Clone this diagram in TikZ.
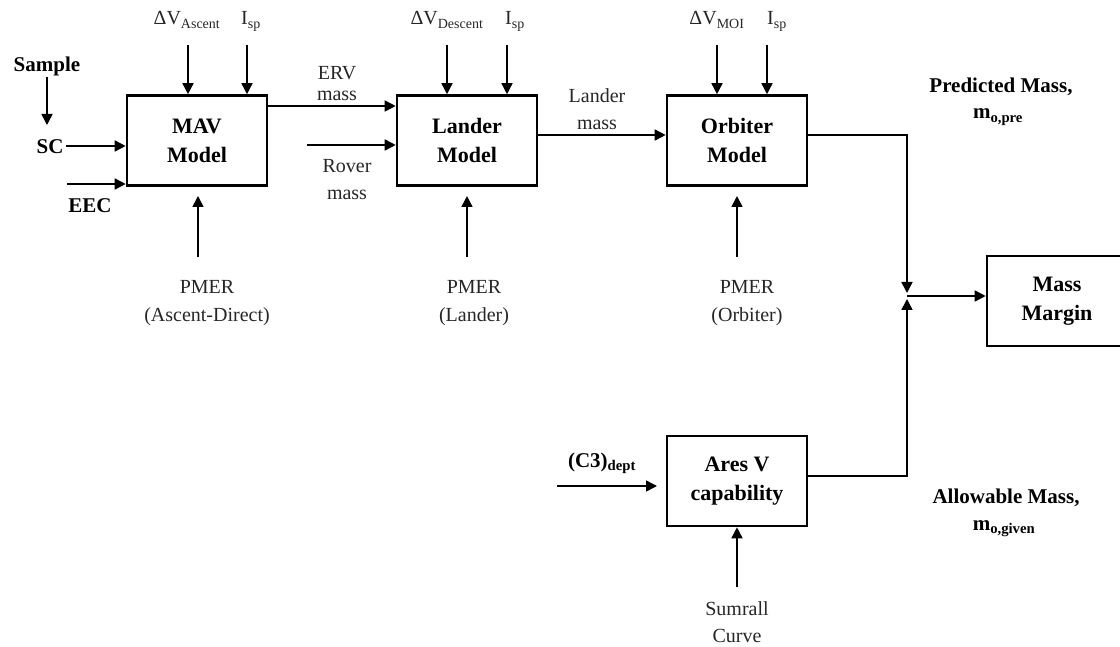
\documentclass[tikz,border=0pt]{standalone}
\usepackage{fontspec}
\setmainfont{Liberation Serif}
\usetikzlibrary{arrows.meta}
\begin{document}
\begin{tikzpicture}[x=1pt,y=-1pt,
  box/.style={draw, line width=2.6pt, minimum width=140pt, minimum height=90pt, inner sep=0pt,
    font=\bfseries\fontsize{22}{29}\selectfont, align=center},
  arr/.style={line width=1.6pt, -{Triangle[length=11pt,width=11pt]}},
  lbl/.style={font=\fontsize{20}{26}\selectfont, text=black!85, anchor=base, inner sep=0pt},
  blbl/.style={font=\bfseries\fontsize{21}{26}\selectfont, anchor=base, inner sep=0pt}
]
\useasboundingbox (0,0) rectangle (1120,647);

% boxes
\node[box] (mav) at (197,140.5) {MAV\\Model};
\node[box] (lander) at (467,140.5) {Lander\\Model};
\node[box] (orbiter) at (737,140.5) {Orbiter\\Model};
\node[box] (margin) at (1057,301) {Mass\\Margin};
\node[box] (ares) at (737,481) {Ares V\\capability};

% top labels
\node[lbl] (dva) at (187,25) {ΔV\textsubscript{Ascent}};
\node[lbl] (ispa) at (251,25) {I\textsubscript{sp}};
\node[lbl] (dvd) at (447,25) {ΔV\textsubscript{Descent}};
\node[lbl] (ispd) at (515,25) {I\textsubscript{sp}};
\node[lbl] (dvm) at (717,25) {ΔV\textsubscript{MOI}};
\node[lbl] (ispm) at (777,25) {I\textsubscript{sp}};

\coordinate (dvaS) at (188,45);
\coordinate (ispaS) at (247,45);
\coordinate (dvdS) at (447,45);
\coordinate (ispdS) at (507,45);
\coordinate (dvmS) at (717,45);
\coordinate (ispmS) at (767,45);
\draw[arr] (dvaS) -- (dvaS |- mav.north);
\draw[arr] (ispaS) -- (ispaS |- mav.north);
\draw[arr] (dvdS) -- (dvdS |- lander.north);
\draw[arr] (ispdS) -- (ispdS |- lander.north);
\draw[arr] (dvmS) -- (dvmS |- orbiter.north);
\draw[arr] (ispmS) -- (ispmS |- orbiter.north);

% left inputs
\node[blbl] (sample) at (47,72) {Sample};
\node[blbl] (sc) at (50,154) {SC};
\node[blbl] (eec) at (90,213) {EEC};
\coordinate (sampS) at (47,77);
\coordinate (sampE) at (47,125);
\draw[arr] (sampS) -- (sampE);
\coordinate (scS) at (66,146);
\draw[arr] (scS) -- (scS -| mav.west);
\coordinate (eecS) at (67,184);
\draw[arr] (eecS) -- (eecS -| mav.west);

% MAV -> Lander
\coordinate (ervS) at (267,106);
\draw[arr] (ervS) -- (ervS -| lander.west);
\node[lbl] (erv1) at (337,80) {ERV};
\node[lbl] (erv2) at (337,101) {mass};
\coordinate (rovS) at (307,145);
\draw[arr] (rovS) -- (rovS -| lander.west);
\node[lbl] (rov1) at (347,173) {Rover};
\node[lbl] (rov2) at (347,200) {mass};

% Lander -> Orbiter
\coordinate (lmS) at (537,135);
\draw[arr] (lmS) -- (lmS -| orbiter.west);
\node[lbl] (lm1) at (597,103) {Lander};
\node[lbl] (lm2) at (597,130) {mass};

% PMER inputs
\coordinate (pmaS) at (198,257);
\coordinate (pmaE) at (198,196);
\draw[arr] (pmaS) -- (pmaE);
\node[lbl] (pma1) at (207,294) {PMER};
\node[lbl] (pma2) at (207,321) {(Ascent-Direct)};
\coordinate (pmlS) at (467,257);
\coordinate (pmlE) at (467,196);
\draw[arr] (pmlS) -- (pmlE);
\node[lbl] (pml1) at (474,294) {PMER};
\node[lbl] (pml2) at (474,321) {(Lander)};
\coordinate (pmoS) at (737,257);
\coordinate (pmoE) at (737,196);
\draw[arr] (pmoS) -- (pmoE);
\node[lbl] (pmo1) at (747,294) {PMER};
\node[lbl] (pmo2) at (747,321) {(Orbiter)};

% to mass margin
\coordinate (orbO) at (808,135);
\coordinate (junTop) at (907,293);
\coordinate (junBot) at (907,299);
\coordinate (junMid) at (907,296);
\coordinate (aresO) at (807,476);
\draw[arr] (orbO) -| (junTop);
\draw[arr] (aresO) -| (junBot);
\draw[arr] (junMid) -- (junMid -| margin.west);

\node[blbl] (pm1) at (1001,93) {Predicted Mass,};
\node[blbl] (pm2) at (998,119) {m\textsubscript{o,pre}};
\node[blbl] (am1) at (1006,503) {Allowable Mass,};
\node[blbl] (am2) at (1004,530) {m\textsubscript{o,given}};

% Ares V inputs
\node[blbl] (c3) at (602,467) {(C3)\textsubscript{dept}};
\coordinate (c3S) at (557,486);
\coordinate (c3E) at (657,486);
\draw[arr] (c3S) -- (c3E);
\coordinate (sumS) at (737,587);
\draw[arr] (sumS) -- (sumS |- ares.south);
\node[lbl] (sum1) at (737,615) {Sumrall};
\node[lbl] (sum2) at (737,642) {Curve};
\end{tikzpicture}
\end{document}
